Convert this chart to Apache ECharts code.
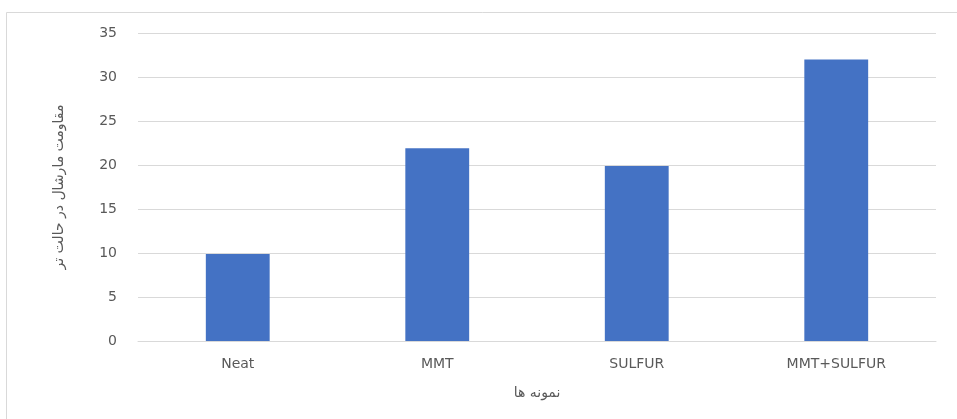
<!DOCTYPE html>
<html>
<head>
<meta charset="utf-8">
<script src="https://cdn.jsdelivr.net/npm/echarts@6/dist/echarts.min.js"></script>
<style>
  html, body { margin: 0; padding: 0; background: #fff; }
  #chart { width: 957px; height: 419px; }
</style>
</head>
<body>
<div id="chart"></div>
<script>
const categories = ["Neat", "MMT", "SULFUR", "MMT+SULFUR"];
const values = [9.9, 21.9, 19.9, 32];
const yAxisName = "مقاومت مارشال در حالت تر";
const xAxisName = "نمونه ها";

let myChart = echarts.init(document.getElementById("chart"));
let option = {
  backgroundColor: "#fff",
  animation: false,
  graphic: [
    {
      type: "rect",
      shape: { x: 6.5, y: 12.5, width: 1000, height: 500 },
      style: { fill: "none", stroke: "#d9d9d9", lineWidth: 1 },
      silent: true,
    },
  ],
  grid: {
    left: 138,
    right: 21,
    top: 33,
    bottom: 78,
  },
  xAxis: {
    type: "category",
    data: categories,
    name: xAxisName,
    nameLocation: "middle",
    nameGap: 45,
    nameTextStyle: { color: "#595959", fontSize: 14, fontFamily: "DejaVu Sans" },
    axisLine: { lineStyle: { color: "#d9d9d9" } },
    axisTick: { show: false },
    axisLabel: {
      color: "#595959",
      fontSize: 14,
      fontFamily: "DejaVu Sans",
      margin: 16,
    },
  },
  yAxis: {
    type: "value",
    min: 0,
    max: 35,
    interval: 5,
    name: yAxisName,
    nameLocation: "middle",
    nameRotate: 90,
    nameGap: 72,
    nameTextStyle: { color: "#595959", fontSize: 14, fontFamily: "DejaVu Sans" },
    axisLine: { show: false },
    axisTick: { show: false },
    axisLabel: {
      color: "#595959",
      fontSize: 14,
      fontFamily: "DejaVu Sans",
      margin: 21,
    },
    splitLine: { lineStyle: { color: "#d9d9d9" } },
  },
  series: [
    {
      type: "bar",
      data: values,
      barWidth: "32%",
      itemStyle: { color: "#4472c4" },
    },
  ],
};
option && myChart.setOption(option);
</script>
</body>
</html>
